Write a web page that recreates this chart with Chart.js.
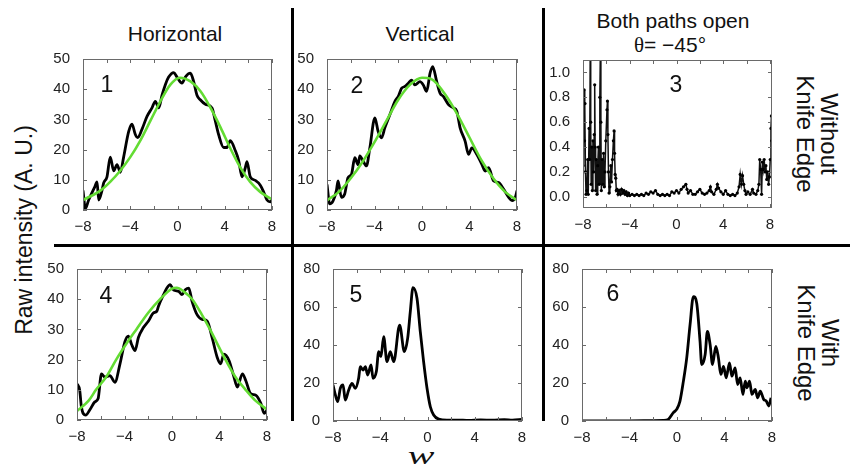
<!DOCTYPE html>
<html>
<head>
<meta charset="utf-8">
<script src="https://cdn.jsdelivr.net/npm/chart.js@4.4.1/dist/chart.umd.min.js"></script>
<style>
  body { margin: 0; background: #fff; }
  #fig { position: relative; width: 850px; height: 472px; overflow: hidden; font-family: "Liberation Sans", Arial, sans-serif; color: #111; }
  .txt { position: absolute; white-space: nowrap; transform: translate(-50%, -50%); text-align: center; }
  .rule { position: absolute; background: #000; }
  .panel { position: absolute; }
</style>
</head>
<body>
<div id="fig">
  <div class="rule" style="left:291px;top:8px;width:3px;height:413px"></div>
  <div class="rule" style="left:542px;top:8px;width:3px;height:413px"></div>
  <div class="rule" style="left:54px;top:244px;width:796px;height:3px"></div>

  <div class="txt" style="left:175px;top:34px;font-size:21px">Horizontal</div>
  <div class="txt" style="left:420px;top:34px;font-size:21px">Vertical</div>
  <div class="txt" style="left:673px;top:21px;font-size:21px">Both paths open</div>
  <div class="txt" style="left:670px;top:45px;font-size:21px"><span style="font-family:'Liberation Serif',serif">θ</span>= −45°</div>

  <div class="txt" style="left:24px;top:230px;font-size:23px;transform:translate(-50%,-50%) rotate(-90deg)">Raw intensity (A. U.)</div>
  <div class="txt" style="left:817px;top:134px;font-size:24px;line-height:24px;transform:translate(-50%,-50%) rotate(90deg)">Without<br>Knife Edge</div>
  <div class="txt" style="left:818px;top:343px;font-size:24px;line-height:24px;transform:translate(-50%,-50%) rotate(90deg)">With<br>Knife Edge</div>
  <div class="txt" style="left:421px;top:456px;font-size:25px;font-style:italic;font-family:'Liberation Serif',serif;transform:translate(-50%,-50%) scale(1.6,1)">w</div>
</div>

<script>
// tick values
const xTicks = [-8, -6, -4, -2, 0, 2, 4, 6, 8];
const yTicks50 = [0, 10, 20, 30, 40, 50];
const yTicks80 = [0, 20, 40, 60, 80];
const yTicks1 = [0, 0.2, 0.4, 0.6, 0.8, 1.0];

// panel 1 - horizontal, no knife edge
const h1Data = [[-8,6.5],[-7.8,0.5],[-7.52,3.3],[-7.01,7.6],[-6.81,9.3],[-6.67,3.3],[-6.39,6.5],[-6.25,9],[-5.97,11],[-5.69,17.5],[-5.4,13],[-5.12,15],[-4.84,12.5],[-4.56,17.5],[-4.13,26],[-3.85,28.4],[-3.57,25],[-3.37,24],[-3.01,26.7],[-2.58,31],[-2.16,33.8],[-1.88,36],[-1.59,33.8],[-1.31,38],[-1.03,41.5],[-0.75,44],[-0.32,45.5],[-0.04,44],[0.38,42],[0.66,44],[1.09,45.3],[1.37,42.5],[1.65,38],[1.93,36.5],[2.36,35],[2.92,33.8],[3.2,29.5],[3.48,25],[3.91,20.7],[4.19,20.7],[4.47,23],[4.9,19.6],[5.18,16.4],[5.46,11],[5.74,14],[5.88,16],[6.16,11],[6.59,9.8],[7.01,8.2],[7.29,6],[7.58,3.3],[7.86,2.7],[8,3.5]];
const h1Fit = [[-8,3.3],[-6.5,6.5],[-5.7,9.3],[-4.85,13],[-4,17.5],[-3.15,23],[-2.3,29.5],[-1.45,36],[-0.6,41.5],[0.2,43.8],[1.1,42.6],[1.95,39.3],[2.8,33.8],[3.65,27.3],[4.5,20.2],[5.3,14.2],[6.15,9.3],[7,6],[8,3.5]];

// panel 2 - vertical, no knife edge
const v2Data = [[-8,8.5],[-7.77,2],[-7.49,3],[-7.21,6.4],[-7.07,9.6],[-6.79,4.2],[-6.51,5.3],[-6.23,10.7],[-5.94,11.8],[-5.66,17.3],[-5.38,15],[-5.24,17.9],[-4.96,16.2],[-4.68,14.6],[-4.39,20.6],[-3.97,30.5],[-3.69,26],[-3.41,23.9],[-3.13,27.2],[-2.7,31.6],[-2.28,36],[-2,37.6],[-1.72,40.3],[-1.44,40.9],[-1.15,42],[-0.87,43],[-0.59,41.4],[-0.17,42.5],[0.11,41.4],[0.39,39.3],[0.68,45.3],[0.9,47.5],[1.24,42.5],[1.52,38.7],[1.8,37.6],[2.23,34.9],[2.65,33.8],[2.93,32.7],[3.21,27.2],[3.63,22.8],[3.92,18.4],[4.2,20.6],[4.62,18.4],[5.04,15.1],[5.32,12.9],[5.61,14],[6.03,9.6],[6.45,9.1],[6.87,6.9],[7.3,4.2],[7.58,3.1],[7.86,4.2],[8,6.4]];
const v2Fit = [[-8,3.2],[-7,6],[-6,10.5],[-5,16],[-4,22.5],[-3,29.5],[-2,36.5],[-1,41.5],[0,43.8],[0.5,43.7],[1,42.8],[2,38],[3,31.5],[4,24],[5,16.5],[6,10.5],[7,6],[8,3.3]];

// panel 3 - both paths open
const b3Data = [[-8,0.25],[-7.95,0.8],[-7.91,0.86],[-7.87,0.45],[-7.83,0.75],[-7.79,0.2],[-7.74,0.02],[-7.68,0.05],[-7.6,0.3],[-7.55,0.02],[-7.48,0.55],[-7.43,0.3],[-7.38,1.2],[-7.34,0.6],[-7.3,0.1],[-7.25,0.4],[-7.2,0.05],[-7.15,0.45],[-7.1,0.2],[-7.04,0.5],[-7,0.9],[-6.96,0.4],[-6.92,0.05],[-6.86,0.3],[-6.8,0.02],[-6.74,0.25],[-6.68,0.4],[-6.62,0.1],[-6.56,0.8],[-6.51,1.2],[-6.47,0.6],[-6.43,0.05],[-6.36,0.3],[-6.3,0.1],[-6.24,0.35],[-6.18,0.08],[-6.12,0.2],[-6.05,0.45],[-5.95,0.7],[-5.91,0.77],[-5.87,0.5],[-5.82,0.2],[-5.77,0.03],[-5.7,0.08],[-5.62,0.25],[-5.56,0.12],[-5.48,0.3],[-5.4,0.45],[-5.34,0.53],[-5.3,0.35],[-5.25,0.18],[-5.2,0.15],[-5.15,0.05],[-5.08,0.06],[-5,0.02],[-4.9,0.05],[-4.8,0.02],[-4.7,0.06],[-4.6,0.03],[-4.5,0.05],[-4.4,0.02],[-4.3,0.04],[-4.2,0.01],[-4.1,0.03],[-4,0.01],[-3.8,0.02],[-3.6,0.01],[-3.4,0.02],[-3.2,0.01],[-3,0.02],[-2.8,0.01],[-2.6,0.03],[-2.4,0.02],[-2.2,0.04],[-2,0.03],[-1.8,0.05],[-1.6,0.02],[-1.4,0.01],[-1.2,0.02],[-1,0.01],[-0.8,0.02],[-0.6,0.01],[-0.4,0.04],[-0.2,0.03],[0,0.05],[0.2,0.03],[0.4,0.06],[0.6,0.08],[0.8,0.1],[0.9,0.06],[1,0.03],[1.2,0.05],[1.4,0.02],[1.6,0.02],[1.8,0.04],[2,0.06],[2.2,0.03],[2.4,0.02],[2.6,0.03],[2.8,0.05],[2.9,0.08],[3,0.04],[3.2,0.02],[3.4,0.06],[3.5,0.1],[3.6,0.07],[3.8,0.04],[4,0.02],[4.2,0.05],[4.4,0.02],[4.6,0.01],[4.8,0.02],[5,0.01],[5.2,0.03],[5.35,0.08],[5.45,0.18],[5.55,0.1],[5.65,0.17],[5.75,0.1],[5.85,0.05],[5.95,0.02],[6.1,0.04],[6.3,0.02],[6.5,0.06],[6.6,0.03],[6.8,0.02],[6.95,0.05],[7.05,0.1],[7.12,0.3],[7.2,0.22],[7.28,0.02],[7.35,0.28],[7.42,0.22],[7.5,0.3],[7.58,0.2],[7.65,0.25],[7.72,0.14],[7.8,0.2],[7.88,0.1],[7.95,0.16],[8.02,0.3],[8.08,0.55],[8.12,0.65],[8.15,0.45]];

// panel 4 - horizontal, with knife edge
const h4Data = [[-8,12],[-7.77,9.8],[-7.63,4.4],[-7.27,1.6],[-6.93,3.3],[-6.5,6],[-6.22,7.1],[-5.94,15.3],[-5.66,14.2],[-5.23,14.7],[-4.81,12.5],[-4.38,18.6],[-3.96,26],[-3.68,27.8],[-3.4,25],[-3.11,23],[-2.83,27.3],[-2.41,30.6],[-1.98,32.8],[-1.56,35.5],[-1.28,36],[-1.14,37.7],[-0.71,41.5],[-0.43,43.7],[-0.15,44.8],[0.14,43],[0.56,42.6],[0.84,41.5],[1.12,43.1],[1.41,43.7],[1.69,39.3],[2.11,34.9],[2.54,33.3],[2.96,32.8],[3.38,27.3],[3.81,20.7],[4.09,18.6],[4.37,21.8],[4.8,19.7],[5.22,14.2],[5.5,10.9],[5.93,15.3],[6.21,13.1],[6.63,8.7],[7.06,8.2],[7.48,5.5],[7.76,2.2],[8,3.3]];
const h4Fit = [[-8,3],[-7,6.5],[-6.4,10],[-5.5,14.5],[-4.7,20],[-3.8,25.5],[-3,30],[-2,35.5],[-1,40],[0,43.5],[0.4,43.8],[1,42.5],[1.7,40],[2.5,35],[3.2,30],[4.5,20],[5.3,14.5],[6.2,10],[7,6.5],[8,3.5]];

// panel 5 - vertical, with knife edge
const v5Data = [[-8,19],[-7.8,13.7],[-7.6,10.2],[-7.38,17.2],[-7.15,19],[-6.96,11],[-6.67,16.3],[-6.39,19.8],[-6.11,17.2],[-5.83,22.5],[-5.69,28.6],[-5.46,26.8],[-5.26,28.6],[-5.07,24.2],[-4.78,29.5],[-4.61,22.5],[-4.33,26],[-4.13,36.5],[-3.94,33.9],[-3.71,44.4],[-3.43,31.2],[-3.15,36.5],[-2.86,31.2],[-2.36,50.5],[-1.96,36.5],[-1.68,43.5],[-1.45,58],[-1.23,70.2],[-0.89,64.6],[-0.61,47],[-0.33,31.2],[-0.04,17.2],[0.24,7.5],[0.52,3.2],[0.94,1],[1.65,0.4],[2.5,0.5],[3.5,0.3],[4.5,0.6],[5.5,0.4],[6.5,0.7],[7.2,0.5],[8,0.9]];

// panel 6 - both paths, with knife edge
const b6Data = [[-8,0],[-6,0.1],[-4,0.1],[-2,0.2],[-1.15,0.3],[-0.73,0.9],[-0.31,4.4],[-0.03,6.1],[0.25,10.5],[0.54,21],[0.82,33.2],[1.1,50.7],[1.38,65.5],[1.66,62],[1.94,41.9],[2.08,29.7],[2.37,35],[2.56,47.2],[2.79,40.2],[2.99,29.7],[3.27,39.3],[3.49,33.2],[3.69,24.5],[3.92,28.8],[4.14,22.7],[4.42,30.6],[4.62,23.6],[4.9,28],[5.1,19.2],[5.32,22.7],[5.55,14],[5.75,21],[5.89,17.5],[6.11,21],[6.31,14],[6.59,16.6],[6.79,12.2],[7.01,15.7],[7.3,11.4],[7.52,10.5],[7.72,7.9],[7.92,12.2]];

const FONT = "'Liberation Sans', Arial, sans-serif";
const GREEN = '#63dc33';

function fmtSigned(v) {
  return v < 0 ? '\u2212' + Math.abs(v) : String(v);
}

// frame box with inward tick marks on all four sides
const framePlugin = {
  id: 'frame',
  afterDatasetsDraw(chart) {
    const { ctx, chartArea: a, scales: { x, y } } = chart;
    ctx.save();
    ctx.strokeStyle = '#6a6a6a';
    ctx.lineWidth = 1;
    ctx.strokeRect(a.left + 0.5, a.top + 0.5, a.width - 1, a.height - 1);
    ctx.beginPath();
    x.ticks.forEach(t => {
      const px = Math.round(x.getPixelForValue(t.value)) + 0.5;
      ctx.moveTo(px, a.bottom); ctx.lineTo(px, a.bottom - 4);
      ctx.moveTo(px, a.top); ctx.lineTo(px, a.top + 4);
    });
    y.ticks.forEach(t => {
      const py = Math.round(y.getPixelForValue(t.value)) + 0.5;
      ctx.moveTo(a.left, py); ctx.lineTo(a.left + 4, py);
      ctx.moveTo(a.right, py); ctx.lineTo(a.right - 4, py);
    });
    ctx.stroke();
    ctx.restore();
  }
};

function toXY(arr) { return arr.map(p => ({ x: p[0], y: p[1] })); }

function makePanel(box, cfg) {
  const padL = 45, padT = 12, padR = 14, padB = 28;
  const w = box.r - box.l + padL + padR;
  const h = box.b - box.t + padT + padB;
  const div = document.createElement('div');
  div.className = 'panel';
  div.style.left = (box.l - padL) + 'px';
  div.style.top = (box.t - padT) + 'px';
  const cv = document.createElement('canvas');
  cv.width = w; cv.height = h;
  div.appendChild(cv);
  document.getElementById('fig').appendChild(div);

  const num = document.createElement('div');
  num.className = 'txt';
  num.style.left = cfg.num[1] + 'px';
  num.style.top = cfg.num[2] + 'px';
  num.style.fontSize = '23px';
  num.textContent = cfg.num[0];
  document.getElementById('fig').appendChild(num);

  const tickFont = { family: FONT, size: 15 };
  new Chart(cv, {
    type: 'line',
    data: { datasets: cfg.datasets },
    options: {
      responsive: false,
      animation: false,
      devicePixelRatio: 1,
      layout: { padding: { top: padT, right: padR, left: 0, bottom: 0 } },
      plugins: { legend: { display: false }, tooltip: { enabled: false } },
      elements: { point: { radius: 0 } },
      scales: {
        x: {
          type: 'linear',
          min: cfg.xMin, max: cfg.xMax,
          grid: { display: false },
          border: { display: false },
          afterBuildTicks: s => { s.ticks = xTicks.map(v => ({ value: v })); },
          afterFit: s => { s.height = padB; },
          ticks: {
            autoSkip: false, maxRotation: 0, padding: 0, color: '#222', font: tickFont,
            callback: v => (v % 4 === 0 ? fmtSigned(v) : '')
          }
        },
        y: {
          type: 'linear',
          min: cfg.yMin, max: cfg.yMax,
          grid: { display: false },
          border: { display: false },
          afterBuildTicks: s => { s.ticks = cfg.yTicks.map(v => ({ value: v })); },
          afterFit: s => { s.width = padL; },
          ticks: {
            autoSkip: false, padding: 5, color: '#222', font: tickFont,
            callback: cfg.yFmt || (v => String(v))
          }
        }
      }
    },
    plugins: [framePlugin]
  });
}

function blackLine(data) {
  return { data: toXY(data), borderColor: '#000', borderWidth: 2.8, cubicInterpolationMode: 'monotone', pointRadius: 0 };
}
function greenLine(data) {
  return { data: toXY(data), borderColor: GREEN, borderWidth: 2.6, cubicInterpolationMode: 'monotone', pointRadius: 0 };
}

makePanel({ l: 83, t: 57, r: 272, b: 210 }, {
  xMin: -8, xMax: 8, yMin: 0, yMax: 50, yTicks: yTicks50, num: ['1', 107, 84],
  datasets: [greenLine(h1Fit), blackLine(h1Data)]
});
makePanel({ l: 327, t: 57, r: 517, b: 210 }, {
  xMin: -8, xMax: 8, yMin: 0, yMax: 50, yTicks: yTicks50, num: ['2', 357, 85],
  datasets: [greenLine(v2Fit), blackLine(v2Data)]
});
makePanel({ l: 583, t: 58, r: 772, b: 208 }, {
  xMin: -8, xMax: 8.17, yMin: -0.09, yMax: 1.1, yTicks: yTicks1, num: ['3', 676, 84],
  yFmt: v => v.toFixed(1),
  datasets: [{
    data: toXY(b3Data), borderColor: '#111', borderWidth: 1.5, tension: 0,
    pointRadius: 1.6, pointBackgroundColor: '#000', pointBorderWidth: 0
  }]
});
makePanel({ l: 77, t: 267, r: 267, b: 420 }, {
  xMin: -8, xMax: 8, yMin: 0, yMax: 50, yTicks: yTicks50, num: ['4', 106, 295],
  datasets: [greenLine(h4Fit), blackLine(h4Data)]
});
makePanel({ l: 333, t: 267, r: 522, b: 421 }, {
  xMin: -8, xMax: 8, yMin: 0, yMax: 80, yTicks: yTicks80, num: ['5', 356, 294],
  datasets: [blackLine(v5Data)]
});
makePanel({ l: 582, t: 267, r: 772, b: 421 }, {
  xMin: -8, xMax: 8, yMin: 0, yMax: 80, yTicks: yTicks80, num: ['6', 613, 293],
  datasets: [blackLine(b6Data)]
});
</script>
</body>
</html>
